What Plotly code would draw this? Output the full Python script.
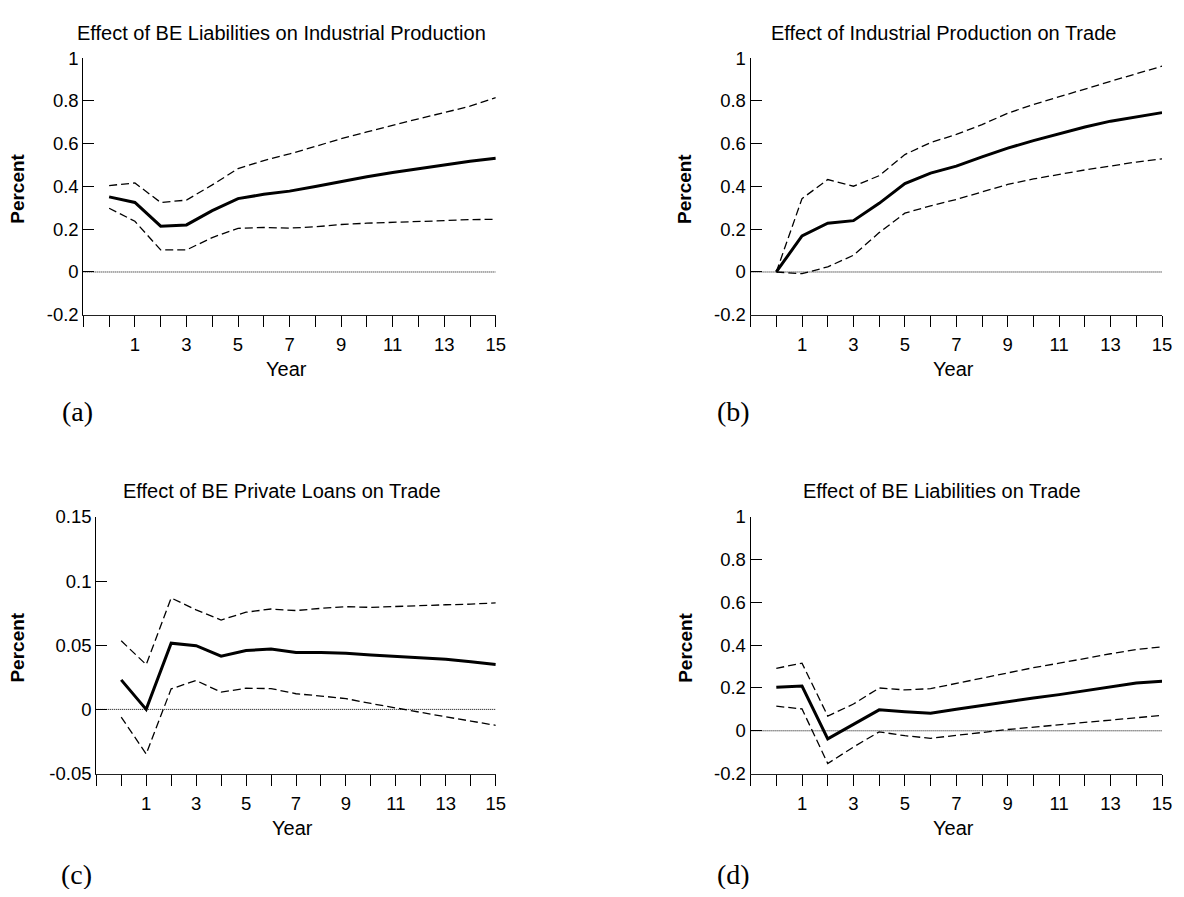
import plotly.graph_objects as go

# The page body has an 8px default margin; the figure is shrunk and all
# pixel targets are offset so that the picture lines up with the 1184x897 window.
WIN_W, WIN_H = 1184, 897
OFF = 8
W, H = WIN_W - 2 * OFF, WIN_H - 2 * OFF

years = list(range(0, 16))

# Panel (a): Effect of BE Liabilities on Industrial Production
a_mid = [0.351, 0.325, 0.214, 0.220, 0.287, 0.343, 0.363, 0.378, 0.400, 0.424, 0.445, 0.465, 0.483, 0.500, 0.518, 0.532]
a_up = [0.404, 0.416, 0.325, 0.336, 0.407, 0.483, 0.521, 0.552, 0.587, 0.623, 0.655, 0.687, 0.716, 0.745, 0.775, 0.815]
a_lo = [0.298, 0.237, 0.103, 0.103, 0.161, 0.204, 0.208, 0.205, 0.211, 0.222, 0.228, 0.231, 0.236, 0.240, 0.245, 0.246]

# Panel (b): Effect of Industrial Production on Trade
b_mid = [0.0, 0.169, 0.228, 0.240, 0.321, 0.413, 0.462, 0.495, 0.538, 0.579, 0.614, 0.646, 0.678, 0.705, 0.726, 0.745]
b_up = [0.0, 0.343, 0.432, 0.401, 0.450, 0.549, 0.605, 0.643, 0.689, 0.742, 0.783, 0.819, 0.857, 0.894, 0.927, 0.962]
b_lo = [0.0, -0.008, 0.024, 0.078, 0.184, 0.275, 0.309, 0.339, 0.374, 0.409, 0.435, 0.457, 0.477, 0.495, 0.514, 0.529]

# Panel (c): Effect of BE Private Loans on Trade
c_mid = [0.023, 0.0, 0.0516, 0.0496, 0.0415, 0.0458, 0.047, 0.0443, 0.0443, 0.0438, 0.0423, 0.0413, 0.0403, 0.039, 0.0372, 0.0349]
c_up = [0.0534, 0.0349, 0.0868, 0.0775, 0.0696, 0.0757, 0.0782, 0.077, 0.0787, 0.080, 0.0795, 0.0803, 0.0808, 0.0815, 0.082, 0.083]
c_lo = [-0.006, -0.0347, 0.016, 0.0225, 0.0134, 0.0165, 0.0162, 0.0122, 0.0104, 0.0084, 0.0046, 0.001, -0.0025, -0.0058, -0.0091, -0.0124]

# Panel (d): Effect of BE Liabilities on Trade
d_mid = [0.203, 0.209, -0.038, 0.031, 0.098, 0.089, 0.082, 0.101, 0.119, 0.134, 0.153, 0.169, 0.188, 0.206, 0.223, 0.232]
d_up = [0.292, 0.316, 0.069, 0.125, 0.200, 0.191, 0.197, 0.221, 0.247, 0.272, 0.295, 0.316, 0.339, 0.360, 0.380, 0.392]
d_lo = [0.115, 0.102, -0.153, -0.076, -0.005, -0.023, -0.035, -0.020, -0.008, 0.006, 0.017, 0.027, 0.038, 0.050, 0.061, 0.072]

titles = ["Effect of BE Liabilities on Industrial Production",
          "Effect of Industrial Production on Trade",
          "Effect of BE Private Loans on Trade",
          "Effect of BE Liabilities on Trade"]
panel_labels = ["(a)", "(b)", "(c)", "(d)"]

x_tickvals = list(range(-1, 16))
x_ticktext = [str(v) if (v > 0 and v % 2 == 1) else "" for v in x_tickvals]

y_ticks_main = [-0.2, 0, 0.2, 0.4, 0.6, 0.8, 1]
y_text_main = ["-0.2", "0", "0.2", "0.4", "0.6", "0.8", "1"]
y_ticks_c = [-0.05, 0, 0.05, 0.1, 0.15]
y_text_c = ["-0.05", "0", "0.05", "0.1", "0.15"]

# layout geometry (window pixels)
panels = [
    dict(x0=84, x1=500, y0=48, y1=311, yr=[-0.2, 1], yt=y_ticks_main, ytt=y_text_main,
         data=(a_mid, a_up, a_lo), title=(284, 22), year=(289, 367), pct=(18, 182), lab=(78, 410)),
    dict(x0=757, x1=1172, y0=48, y1=311, yr=[-0.2, 1], yt=y_ticks_main, ytt=y_text_main,
         data=(b_mid, b_up, b_lo), title=(952, 22), year=(962, 367), pct=(691, 182), lab=(740, 410)),
    dict(x0=97, x1=500, y0=518, y1=781, yr=[-0.05, 0.15], yt=y_ticks_c, ytt=y_text_c,
         data=(c_mid, c_up, c_lo), title=(284, 492), year=(295, 837), pct=(18, 652), lab=(77, 884)),
    dict(x0=757, x1=1172, y0=518, y1=781, yr=[-0.2, 1], yt=y_ticks_main, ytt=y_text_main,
         data=(d_mid, d_up, d_lo), title=(950, 492), year=(962, 837), pct=(691, 652), lab=(740, 884)),
]


def px(x):
    return (x - OFF) / W


def py(y):
    return 1 - (y - OFF) / H


FONT = "Liberation Sans, Arial, sans-serif"
SERIF = "Liberation Serif, Times New Roman, serif"

fig = go.Figure()
annotations = []
layout_axes = {}

for i, p in enumerate(panels):
    n = i + 1
    xa = "x" if n == 1 else f"x{n}"
    ya = "y" if n == 1 else f"y{n}"
    mid, up, lo = p["data"]
    # zero reference line
    fig.add_trace(go.Scatter(x=[-1, 15], y=[0, 0], mode="lines", xaxis=xa, yaxis=ya,
                             line=dict(color="black", width=1, dash="1px,1px"), showlegend=False,
                             hoverinfo="skip"))
    for series in (up, lo):
        fig.add_trace(go.Scatter(x=years, y=series, mode="lines", xaxis=xa, yaxis=ya,
                                 line=dict(color="black", width=1.3, dash="8px,4px"), showlegend=False))
    fig.add_trace(go.Scatter(x=years, y=mid, mode="lines", xaxis=xa, yaxis=ya,
                             line=dict(color="black", width=3), showlegend=False))

    xkey = "xaxis" if n == 1 else f"xaxis{n}"
    ykey = "yaxis" if n == 1 else f"yaxis{n}"
    layout_axes[xkey] = dict(
        domain=[px(p["x0"]), px(p["x1"])], anchor=ya, range=[-1, 15],
        showline=True, linecolor="#222", linewidth=1, mirror=False,
        ticks="outside", ticklen=11, tickwidth=1, tickcolor="black",
        tickvals=x_tickvals, ticktext=x_ticktext, showgrid=False, zeroline=False,
        tickfont=dict(family=FONT, size=18.5, color="black"), ticklabelstandoff=2,
    )
    layout_axes[ykey] = dict(
        domain=[py(p["y1"]), py(p["y0"])], anchor=xa, range=p["yr"],
        showline=True, linecolor="black", linewidth=1,
        ticks="inside", ticklen=11, tickwidth=1, tickcolor="black",
        tickvals=p["yt"], ticktext=p["ytt"], showgrid=False, zeroline=False,
        tickfont=dict(family=FONT, size=18.5, color="black"),
    )
    annotations.append(dict(text=titles[i], x=px(p["title"][0]), y=py(p["title"][1]),
                            xref="paper", yref="paper", showarrow=False, xanchor="center", yanchor="middle",
                            font=dict(family=FONT, size=20, color="black")))
    annotations.append(dict(text="Year", x=px(p["year"][0]), y=py(p["year"][1]),
                            xref="paper", yref="paper", showarrow=False, xanchor="center", yanchor="middle",
                            font=dict(family=FONT, size=20, color="black")))
    annotations.append(dict(text="<b>Percent</b>", x=px(p["pct"][0]), y=py(p["pct"][1]),
                            xref="paper", yref="paper", showarrow=False, xanchor="center", yanchor="middle",
                            textangle=-90, font=dict(family=FONT, size=19, color="black")))
    annotations.append(dict(text=panel_labels[i], x=px(p["lab"][0]), y=py(p["lab"][1]),
                            xref="paper", yref="paper", showarrow=False, xanchor="center", yanchor="middle",
                            font=dict(family=SERIF, size=28, color="black")))

fig.update_layout(
    width=W, height=H, margin=dict(l=0, r=0, t=0, b=0),
    paper_bgcolor="white", plot_bgcolor="white",
    showlegend=False, annotations=annotations, **layout_axes,
)

fig.write_html("out.html")
